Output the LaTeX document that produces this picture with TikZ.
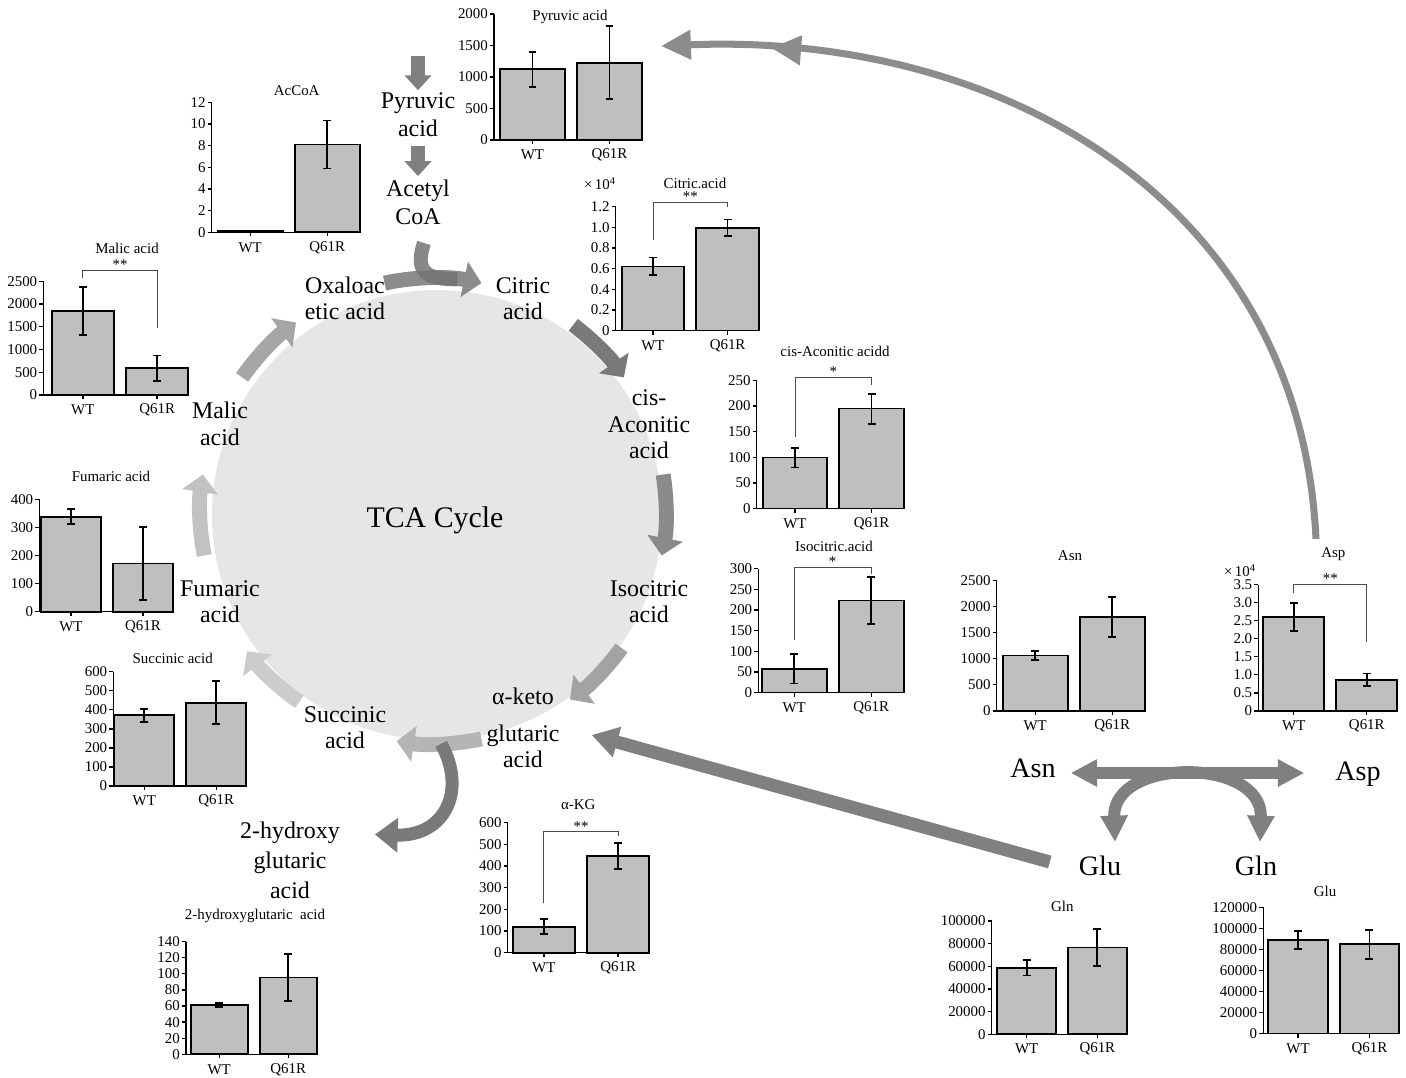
\documentclass[tikz,border=0pt]{standalone}
\usepackage{fontspec}
\setmainfont{Liberation Serif}
\usetikzlibrary{arrows.meta,calc,decorations.markings}
\tikzset{>=Stealth}

\definecolor{cyclefill}{HTML}{E6E6E6}
\definecolor{barfill}{HTML}{BFBFBF}
\definecolor{flowgray}{HTML}{808080}

\newcommand{\chartfont}{\fontsize{8.5}{10}\selectfont}
\newcommand{\metfont}{\fontsize{13.6}{15}\selectfont}
\newcommand{\aafont}{\fontsize{16}{18}\selectfont}
\newcommand{\tcafont}{\fontsize{17}{20}\selectfont}

% one bar panel, drawn inside a scope shifted to the axis origin
% #1 name, #2 px per unit, #3 axis top, #4 ticks, #5 bar offset, #6 bar width,
% #7 WT mean/err, #8 Q61R mean/err
\newcommand{\barpanel}[8]{%
  \pgfmathsetmacro{\wtx}{#5+#6/2}%
  \pgfmathsetmacro{\qx}{#5+1.5*#6+12}%
  \foreach \tickv/\tickl [count=\ti] in {#4}{
    \draw[axisline] (-4,{-\tickv*#2}) -- (0,{-\tickv*#2});
    \node[ticklabel] (#1-t\ti) at (-4,{-\tickv*#2}) {\tickl};
  }
  \foreach \cx/\mv/\ev/\lab in {\wtx/#7/WT,\qx/#8/Q61R}{
    \draw[bar] ({\cx-#6/2},0) rectangle ({\cx+#6/2},{-\mv*#2});
    \draw[axisline] (\cx,0) -- (\cx,4);
    \draw[errbar] (\cx,{-(\mv-\ev)*#2}) -- (\cx,{-(\mv+\ev)*#2});
    \node[catlabel] (#1-\lab) at (\cx,15) {\lab};
  }
  \draw[axisline] (0,{-#3*#2}) -- (0,0) -- ({\qx+#6/2},0);
}
% significance bracket: #1 name, #2 WT leg end, #3 Q61R leg end, #4 top, #5 mark
\newcommand{\sigbracket}[5]{%
  \draw[sigline] (\wtx,#2) |- (\qx,#4) -- (\qx,#3);
  \node[sigmark] (#1-sig) at ({(\wtx+\qx)/2},#4) {#5};
}

\begin{document}
\begin{tikzpicture}[x=0.02cm, y=-0.02cm,
    met/.style={font=\metfont, align=center, inner sep=1pt},
    aa/.style={font=\aafont, inner sep=1pt},
    ticklabel/.style={font=\chartfont, anchor=east, inner sep=1pt},
    catlabel/.style={font=\chartfont, inner sep=1pt},
    charttitle/.style={font=\chartfont, inner sep=1pt},
    sigmark/.style={font=\chartfont, anchor=south, inner sep=0pt},
    axisline/.style={line width=0.75pt},
    bar/.style={draw=black, fill=barfill, line width=0.95pt},
    errbar/.style={line width=1pt, {Bar[width=4.5pt]}-{Bar[width=4.5pt]}},
    sigline/.style={draw=black!70, line width=0.45pt},
    cyclearrow/.style={line width=8.5pt, -{Triangle[width=20pt,length=10pt]}},
    flowarrow/.style={draw=flowgray, line width=8pt, -{Triangle[width=15pt,length=8.5pt]}},
    feedarrow/.style={draw=black!55, line width=8pt, opacity=0.85},
    hgarrow/.style={draw=black!52, line width=7.4pt, -{Triangle[width=19pt,length=13pt]}},
    aaarrow/.style={draw=flowgray, line width=6.8pt},
    aatip/.tip={Triangle[width=14.7pt,length=15pt]},
    longarrow/.style={color=black!45, line width=4pt, -{Triangle[width=16pt,length=17pt]},
      postaction={decorate}, decoration={markings,
        mark=at position 0.88 with {\arrow{Triangle[width=16pt,length=17pt]}}}}
  ]
  \useasboundingbox (0,0) rectangle (1406,1078);

  % TCA cycle
  \coordinate (tca) at (437,515);
  \coordinate (ring) at (433,511);
  \fill[cyclefill] (tca) circle[radius=225];
  \node[font=\tcafont] (tcalabel) at ($(tca)+(-2,5)$) {TCA Cycle};
  \foreach \sa/\ea/\sh in {-102/-78/45,-53/-35/52,-9/11/46,36/54/36,78/99/29,125/143/20,169/189/24,215/234/35}
    \draw[cyclearrow, black!\sh] ($(ring)+(\sa:233)$) arc[start angle=\sa, end angle=\ea, radius=233];

  % metabolites
  \node[met, font=\fontsize{13.6}{16}\selectfont] (pyr) at (418,114.4) {Pyruvic\\acid};
  \node[met, font=\fontsize{13.6}{16}\selectfont] (acoa) at (418,202.4) {Acetyl\\CoA};
  \node[met] (oaa) at (345,298.5) {Oxaloac\\etic acid};
  \node[met] (cit) at (523,298.5) {Citric\\acid};
  \node[met] (cis) at (649,424.5) {cis-\\Aconitic\\acid};
  \node[met] (iso) at (649,601.5) {Isocitric\\acid};
  \node[met] (akg) at (523,728) {α-keto\\[6pt]glutaric\\acid};
  \node[met] (suc) at (345,727.5) {Succinic\\acid};
  \node[met] (fum) at (220,601.5) {Fumaric\\acid};
  \node[met] (mal) at (220,424) {Malic\\acid};
  \node[met, font=\fontsize{13.6}{17}\selectfont] (hg) at (290,860.5) {2-hydroxy\\glutaric\\acid};
  \node[aa] (asn) at (1033,768) {Asn};
  \node[aa] (asp) at (1358,774) {Asp};
  \node[aa] (glu) at (1100,866) {Glu};
  \node[aa] (gln) at (1256,866) {Gln};

  % feeding and leaving arrows
  \coordinate (pyrsrc) at (418,56);
  \draw[flowarrow] (pyrsrc) -- (pyr.north);
  \draw[flowarrow, shorten <=4pt, shorten >=1pt] (pyr.south) -- (acoa.north);
  \draw[feedarrow] ($(acoa.south)+(6,16)$) .. controls +(-10,30) and +(-30,0) .. ($(ring)+(-84:233)$);
  \draw[hgarrow] ($(ring)+(88:233)$) .. controls +(26,47) and +(70,2) .. ($(hg.east)+(33,-26)$);
  \draw[aaarrow, aatip-aatip] ($(asn.east)+(13,5)$) -- ($(asp.west)+(-29,-1)$);
  \draw[aaarrow, aatip-aatip] ($(glu.north)+(15,-12)$) .. controls +(-3,-85) and +(3,-85) .. ($(gln.north)+(4,-12)$);
  \draw[aaarrow, line width=7.4pt, -{Triangle[width=17pt,length=15pt]}] ($(glu.west)+(-27,-4)$) -- ($(akg.east)+(30,7)$);
  \coordinate (aspout) at (1316,539);
  \coordinate (pyrin) at (661,46);
  \draw[longarrow] (aspout) .. controls (1300,200) and (1000,32) .. (pyrin);

  % bar panels
  \begin{scope}[shift={(211.7,232.3)}]
    \barpanel{chacc}{10.83}{12}{0/0,2/2,4/4,6/6,8/8,10/10,12/12}{6}{65}{0.12/0.02}{8.1/2.3}
    \node[charttitle] (chacc-title) at (85,-142) {AcCoA};
  \end{scope}
  \begin{scope}[shift={(43.3,395)}]
    \barpanel{chmal}{0.04548}{2500}{0/0,500/500,1000/1000,1500/1500,2000/2000,2500/2500}{8.4}{62.3}{1850/545}{587/300}
    \sigbracket{chmal}{-116.7}{-67.3}{-125}{**}
    \node[charttitle] (chmal-title) at (83.7,-147) {Malic acid};
  \end{scope}
  \begin{scope}[shift={(494,140)}]
    \barpanel{chpyr}{0.063}{2000}{0/0,500/500,1000/1000,1500/1500,2000/2000}{6}{65}{1122/290}{1227/595}
    \node[charttitle] (chpyr-title) at (76,-123.3) {Pyruvic acid};
  \end{scope}
  \begin{scope}[shift={(615.7,330.6)}]
    \barpanel{chcit}{103.2}{1.2}{0/0,0.2/0.2,0.4/0.4,0.6/0.6,0.8/0.8,1/1.0,1.2/1.2}{6}{62.6}{0.622/0.094}{0.996/0.09}
    \sigbracket{chcit}{-90.6}{-123.8}{-128.3}{**}
    \node[charttitle] (chcit-exp) at (-15.7,-146.6) {×\,10\textsuperscript{4}};
    \node[charttitle] (chcit-title) at (79.3,-147.5) {Citric.acid};
  \end{scope}
  \begin{scope}[shift={(756.7,508.5)}]
    \barpanel{chcis}{0.512}{250}{0/0,50/50,100/100,150/150,200/200,250/250}{6}{64.6}{99.4/21}{195/31}
    \sigbracket{chcis}{-71.9}{-123.8}{-131.5}{*}
    \node[charttitle] (chcis-title) at (78.3,-157.2) {cis-Aconitic acidd};
  \end{scope}
  \begin{scope}[shift={(758.3,692.6)}]
    \barpanel{chiso}{0.4127}{300}{0/0,50/50,100/100,150/150,200/200,250/250,300/300}{3.4}{65}{57.8/38}{223/59}
    \sigbracket{chiso}{-52.6}{-118.6}{-125.5}{*}
    \node[charttitle] (chiso-title) at (75.7,-146) {Isocitric.acid};
  \end{scope}
  \begin{scope}[shift={(39.3,611.7)}]
    \barpanel{chfum}{0.2808}{400}{0/0,100/100,200/200,300/300,400/400}{1.7}{60}{338/30}{172/134}
    \node[charttitle] (chfum-title) at (71.7,-135) {Fumaric acid};
  \end{scope}
  \begin{scope}[shift={(113.3,786)}]
    \barpanel{chsuc}{0.1905}{600}{0/0,100/100,200/200,300/300,400/400,500/500,600/600}{1}{60}{371/38}{437/118}
    \node[charttitle] (chsuc-title) at (59.4,-127.7) {Succinic acid};
  \end{scope}
  \begin{scope}[shift={(186,1054.3)}]
    \barpanel{chhg}{0.805}{140}{0/0,20/20,40/40,60/60,80/80,100/100,120/120,140/140}{4.7}{57}{61.2/3.3}{95.6/30}
    \node[charttitle] (chhg-title) at (69,-138.6) {2-hydroxyglutaric\ \ acid};
  \end{scope}
  \begin{scope}[shift={(507.7,952.7)}]
    \barpanel{chakg}{0.2167}{600}{0/0,100/100,200/200,300/300,400/400,500/500,600/600}{5}{62.3}{120/38}{446/65}
    \sigbracket{chakg}{-49.4}{-116.7}{-121}{**}
    \node[charttitle] (chakg-title) at (70.6,-147.7) {α-KG};
  \end{scope}
  \begin{scope}[shift={(996.7,710.9)}]
    \barpanel{chasn}{0.05216}{2500}{0/0,500/500,1000/1000,1500/1500,2000/2000,2500/2500}{6}{65}{1063/108}{1800/400}
    \node[charttitle] (chasn-title) at (73.3,-155.5) {Asn};
  \end{scope}
  \begin{scope}[shift={(1258.3,710.9)}]
    \barpanel{chasp}{36.09}{3.5}{0/0,0.5/0.5,1/1.0,1.5/1.5,2/2.0,2.5/2.5,3/3.0,3.5/3.5}{5}{61}{2.6/0.41}{0.864/0.2}
    \sigbracket{chasp}{-117.7}{-68.6}{-127}{**}
    \node[charttitle] (chasp-exp) at (-18.3,-140.7) {×\,10\textsuperscript{4}};
    \node[charttitle] (chasp-title) at (75,-157.2) {Asp};
  \end{scope}
  \begin{scope}[shift={(991.7,1034.2)}]
    \barpanel{chgln}{1.133}{100}{0/0,20/20000,40/40000,60/60000,80/80000,100/100000}{5.6}{58.7}{58.5/7.5}{76.4/17}
    \node[charttitle] (chgln-title) at (70.6,-127.7) {Gln};
  \end{scope}
  \begin{scope}[shift={(1263.3,1033.5)}]
    \barpanel{chglu}{1.0525}{120}{0/0,20/20000,40/40000,60/60000,80/80000,100/100000,120/120000}{5}{59.4}{89/9.5}{84.8/14.7}
    \node[charttitle] (chglu-title) at (61.7,-141.8) {Glu};
  \end{scope}
\end{tikzpicture}
\end{document}
